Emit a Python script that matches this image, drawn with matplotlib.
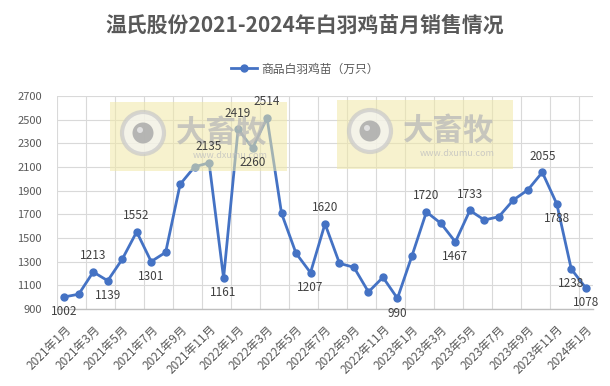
import matplotlib
matplotlib.use("Agg")
import matplotlib.pyplot as plt
from matplotlib.patches import Rectangle, Circle

plt.rcParams['font.family'] = ['Noto Sans CJK SC', 'DejaVu Sans']

months = [f"{y}年{m}月" for y in (2021, 2022, 2023) for m in range(1, 13)] + ["2024年1月"]
values = [1002, 1025, 1213, 1139, 1320, 1552, 1301, 1379, 1954, 2102, 2135, 1161,
          2419, 2260, 2514, 1708, 1371, 1207, 1620, 1286, 1252, 1044, 1168, 990,
          1348, 1720, 1624, 1467, 1733, 1652, 1680, 1821, 1906, 2055, 1788, 1238, 1078]
# indices of labelled points and whether label sits above (+1) or below (-1)
label_idx = [0, 2, 3, 5, 6, 10, 11, 12, 13, 14, 17, 18, 23, 25, 27, 28, 33, 34, 35, 36]
label_pos = [-1, 1, -1, 1, -1, 1, -1, 1, -1, 1, -1, 1, -1, 1, -1, 1, 1, -1, -1, -1]
yticks = list(range(900, 2701, 200))
series_name = "商品白羽鸡苗（万只）"
title = "温氏股份2021-2024年白羽鸡苗月销售情况"

W, H = 610, 386
fig = plt.figure(figsize=(W/100, H/100), dpi=100)
ax = fig.add_axes([57/W, 1-309/H, (593-57)/W, (309-96)/H])

x = list(range(len(values)))
line, = ax.plot(x, values, color="#4472C4", lw=2, marker="o", ms=5, zorder=3,
                label=series_name)

ax.set_xlim(-0.5, len(values) - 0.5)
ax.set_ylim(900, 2700)
ax.set_yticks(yticks)
ax.set_yticklabels([str(t) for t in yticks], fontsize=8, color="#595959")
ax.set_xticks(x[::2])
ax.set_xticklabels(months[::2], rotation=45, ha="right", va="top",
                   rotation_mode="anchor", fontsize=8.5, color="#595959")
ax.tick_params(axis="y", length=0, pad=11)
ax.tick_params(axis="x", length=0, pad=10)

for gx in [i - 0.5 for i in range(0, len(values), 2)]:
    ax.axvline(gx, color="#D9D9D9", lw=0.8, zorder=0)
for gy in yticks:
    ax.axhline(gy, color="#D9D9D9", lw=0.8, zorder=0)
for s in ["top", "right", "left"]:
    ax.spines[s].set_visible(False)
ax.spines["bottom"].set_color("#BFBFBF")
ax.spines["bottom"].set_linewidth(1)

for i, p in zip(label_idx, label_pos):
    off = 7 if p > 0 else -6
    ax.annotate(str(values[i]), (x[i], values[i]), xytext=(0, off),
                textcoords="offset points", ha="center",
                va="bottom" if p > 0 else "top", fontsize=8.5, color="#404040",
                zorder=10)

# watermarks (drawn over the line, under the data labels)
inch = fig.dpi_scale_trans
for (x0, x1, y0, y1) in [(110, 287, 102, 171), (337, 513, 100, 169)]:
    ax.add_patch(Rectangle((x0/100, (H-y1)/100), (x1-x0)/100, (y1-y0)/100, transform=inch,
                           facecolor="#F1E8A6", alpha=0.55, edgecolor="none",
                           zorder=4, clip_on=False))
    cx, cy = (x0 + 33)/100, (H - (y0 + 31))/100
    ax.add_patch(Circle((cx, cy), 0.21, transform=inch, facecolor="#F4F4F4", alpha=0.7,
                        edgecolor="#C8C8C8", lw=3, zorder=5, clip_on=False))
    ax.add_patch(Circle((cx, cy), 0.105, transform=inch, facecolor="#A6A6A6", alpha=0.8,
                        edgecolor="none", zorder=5, clip_on=False))
    ax.add_patch(Circle((cx - 0.03, cy + 0.03), 0.03, transform=inch, facecolor="#E0E0E0",
                        edgecolor="none", zorder=5, clip_on=False))
    ax.text((x0 + 112)/100, (H - (y0 + 31))/100, "大畜牧", transform=inch, fontsize=22,
            fontweight="bold", color="#B8B8B8", ha="center", va="center", alpha=0.75,
            zorder=5, clip_on=False)
    ax.text((x0 + 120)/100, (H - (y0 + 53))/100, "www.dxumu.com", transform=inch,
            fontsize=6.5, color="#C0C0C0", ha="center", va="center", alpha=0.8,
            zorder=5, clip_on=False)

fig.text(0.5, 1-25/H, title, fontsize=15, fontweight="bold", color="#595959",
         ha="center", va="center")
fig.legend(handles=[line], loc="center", bbox_to_anchor=(0.5, 1-69/H), frameon=False,
           fontsize=8.5, labelcolor="#595959", handlelength=2.2, handletextpad=0.4)

fig.savefig("out.png", dpi=100)
